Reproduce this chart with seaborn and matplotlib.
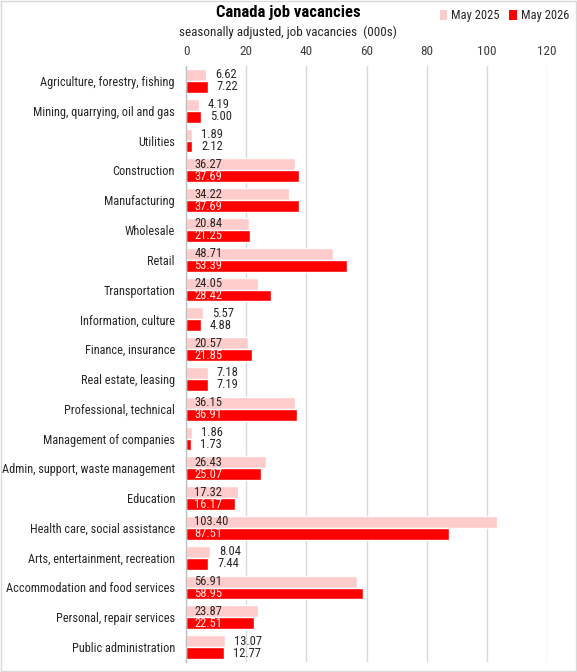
import matplotlib
matplotlib.use("Agg")
import matplotlib.pyplot as plt
from matplotlib import font_manager
from matplotlib.patches import Patch
import seaborn as sns
import pandas as pd

categories = [
    "Agriculture, forestry, fishing", "Mining, quarrying, oil and gas", "Utilities",
    "Construction", "Manufacturing", "Wholesale", "Retail", "Transportation",
    "Information, culture", "Finance, insurance", "Real estate, leasing",
    "Professional, technical", "Management of companies",
    "Admin, support, waste management", "Education",
    "Health care, social assistance", "Arts, entertainment, recreation",
    "Accommodation and food services", "Personal, repair services",
    "Public administration",
]
may_2025 = [6.62, 4.19, 1.89, 36.27, 34.22, 20.84, 48.71, 24.05, 5.57, 20.57,
            7.18, 36.15, 1.86, 26.43, 17.32, 103.40, 8.04, 56.91, 23.87, 13.07]
may_2026 = [7.22, 5.00, 2.12, 37.69, 37.69, 21.25, 53.39, 28.42, 4.88, 21.85,
            7.19, 36.91, 1.73, 25.07, 16.17, 87.51, 7.44, 58.95, 22.51, 12.77]
series_names = ["May 2025", "May 2026"]
x_ticks = [0, 20, 40, 60, 80, 100, 120]

sns.set_theme(style="white")
avail = {f.name for f in font_manager.fontManager.ttflist}
fam = "DejaVu Sans"
for cand in ["Liberation Sans Narrow", "Roboto Condensed", "Open Sans Condensed", "Liberation Sans"]:
    if cand in avail:
        fam = cand
        break
plt.rcParams["font.family"] = [fam, "DejaVu Sans"]

df = pd.DataFrame({
    "category": categories * 2,
    "value": may_2025 + may_2026,
    "series": [series_names[0]] * len(categories) + [series_names[1]] * len(categories),
})

colors = {"May 2025": "#FFCCCC", "May 2026": "#FF0000"}
fig = plt.figure(figsize=(5.77, 6.72), dpi=100)
ax = fig.add_axes([186 / 577, 1 - 662 / 672, (547 - 186) / 577, (662 - 66) / 672])

sns.barplot(data=df, y="category", x="value", hue="series", palette=colors,
            orient="h", width=0.8, ax=ax, legend=False, saturation=1)

ax.set_xlim(0, 120)
ax.set_ylim(19.5, -0.5)
ax.set_xticks(x_ticks)
ax.xaxis.tick_top()
ax.tick_params(axis="x", length=0, labelsize=9.5, labelcolor="#404040", pad=6)
ax.tick_params(axis="y", length=0, labelsize=8.8, labelcolor="#262626", pad=8)
ax.set_xlabel("")
ax.set_ylabel("")
ax.grid(axis="x", color="#D9D9D9", linewidth=1)
ax.set_axisbelow(True)
for s in ["top", "right", "bottom"]:
    ax.spines[s].set_visible(False)
ax.spines["left"].set_color("#BFBFBF")
ax.spines["left"].set_linewidth(1)

text_colors = ["#262626", "#FFE5E5"]
for ci, cont in enumerate(ax.containers):
    for patch in cont.patches:
        w = patch.get_width()
        yc = patch.get_y() + patch.get_height() / 2
        if w >= 15:
            ax.annotate(f"{w:.2f}", (0, yc), xytext=(6, 0), textcoords="offset points",
                        ha="left", va="center", fontsize=9, color=text_colors[ci])
        else:
            ax.annotate(f"{w:.2f}", (w, yc), xytext=(6.5, 0), textcoords="offset points",
                        ha="left", va="center", fontsize=9, color="#262626")

fig.text(288 / 577, 1 - 13 / 672, "Canada job vacancies", ha="center", va="center",
         fontsize=12, fontweight="bold", color="#000000")
fig.text(288 / 577, 1 - 32 / 672, "seasonally adjusted, job vacancies  (000s)", ha="center",
         va="center", fontsize=9.4, color="#262626")

handles = [Patch(facecolor=colors[n], edgecolor="none") for n in series_names]
fig.legend(handles, series_names, loc="center right", bbox_to_anchor=(0.995, 1 - 16 / 672),
           ncol=2, frameon=False, fontsize=9, handlelength=0.6, handleheight=0.8,
           handletextpad=0.3, columnspacing=0.8, borderaxespad=0)

fig.patches.append(plt.Rectangle((0.001, 0.001), 0.998, 0.998, transform=fig.transFigure,
                                 fill=False, edgecolor="#D9D9D9", linewidth=1))

fig.savefig("out.png", dpi=100)
